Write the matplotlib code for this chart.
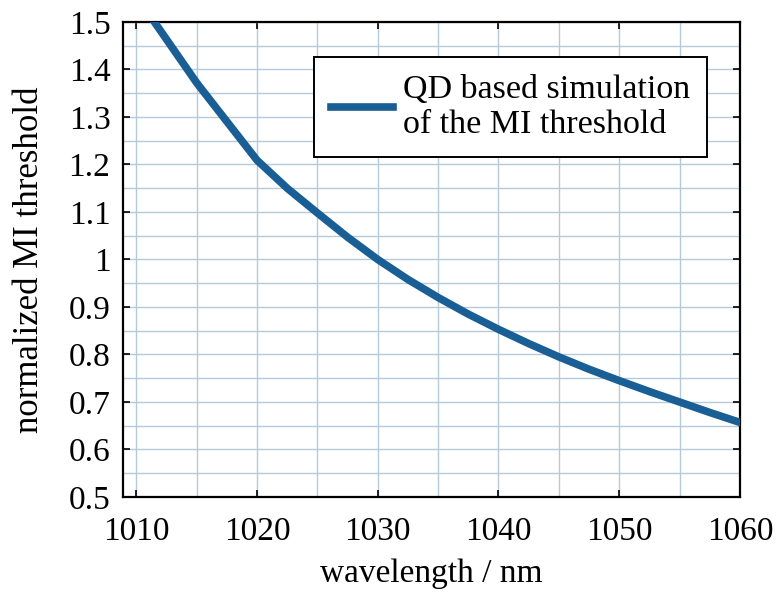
"""
MI threshold vs wavelength — QD based simulation
Output: out.png
"""
import matplotlib
matplotlib.use("Agg")
import matplotlib.pyplot as plt
from matplotlib.ticker import MultipleLocator, FuncFormatter

# data
wavelength = [1010, 1015, 1020, 1022.5, 1025, 1027.5, 1030, 1032.5, 1035, 1037.5,
              1040, 1042.5, 1045, 1047.5, 1050, 1052.5, 1055, 1057.5, 1060]
mi_threshold = [1.555, 1.372, 1.209, 1.150, 1.098, 1.047, 1.000, 0.958, 0.920, 0.885,
                0.853, 0.823, 0.795, 0.769, 0.745, 0.722, 0.700, 0.678, 0.657]

x_ticks = [1010, 1020, 1030, 1040, 1050, 1060]
y_ticks = [0.5, 0.6, 0.7, 0.8, 0.9, 1.0, 1.1, 1.2, 1.3, 1.4, 1.5]

plt.rcParams["font.family"] = ["Liberation Serif", "DejaVu Serif"]

fig = plt.figure(figsize=(7.76, 5.94), dpi=100)
ax = fig.add_axes([0.1585, 0.1633, 0.795, 0.7997])

ax.plot(wavelength, mi_threshold, color="#1a5e96", lw=5.5,
        label="QD based simulation\nof the MI threshold", zorder=3)

ax.set_xlim(1008.9, 1060)
ax.set_ylim(0.5, 1.5)
ax.set_xticks(x_ticks)
ax.set_yticks(y_ticks)
ax.yaxis.set_major_formatter(FuncFormatter(lambda v, p: f"{v:g}"))
ax.xaxis.set_minor_locator(MultipleLocator(5))
ax.yaxis.set_minor_locator(MultipleLocator(0.05))

ax.grid(which="both", color="#b7cad9", lw=1.0, zorder=0)
ax.tick_params(which="major", direction="in", length=5, width=1.2,
               top=True, right=True, labelsize=24)
ax.tick_params(axis="x", pad=14)
ax.tick_params(axis="y", pad=9)
ax.tick_params(which="minor", length=0)
for s in ax.spines.values():
    s.set_linewidth(1.6)

ax.set_xlabel("wavelength / nm", fontsize=24, labelpad=8)
ax.set_ylabel("normalized MI threshold", fontsize=25, labelpad=16)

leg = ax.legend(loc="upper right", bbox_to_anchor=(0.9465, 0.926), borderaxespad=0,
                fontsize=24.5, frameon=True, fancybox=False, handlelength=1.8,
                handletextpad=0.3, borderpad=0.5)
leg.get_frame().set_edgecolor("black")
leg.get_frame().set_linewidth(1.4)
leg.get_frame().set_alpha(1)

fig.savefig("out.png", dpi=100, facecolor="white")
